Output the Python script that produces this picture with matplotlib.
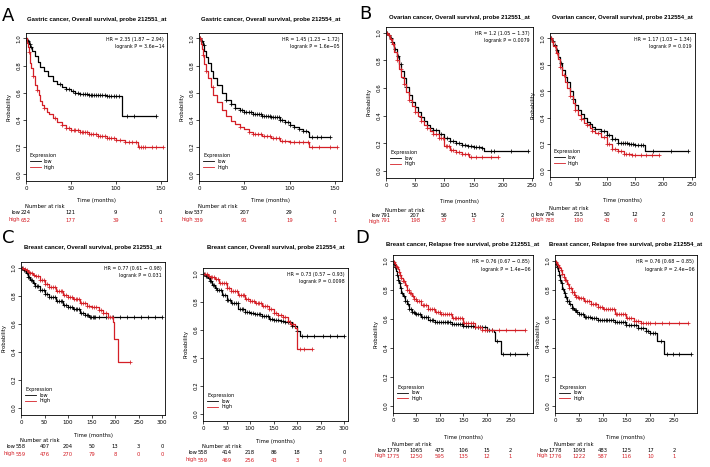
import numpy as np
import matplotlib.pyplot as plt

RED = '#d41f26'
W, H = 710, 467
TITLE_FONT = ['Liberation Sans', 'DejaVu Sans']

# ---------------- A: gastric cancer, overall survival ----------------
a1_low_t = [0, 1, 2, 3, 5, 7, 10, 13, 16, 20, 25, 30, 35, 40, 45, 50, 55, 60, 70, 80, 90, 100, 107, 145]
a1_low_s = [1, .99, .98, .96, .94, .91, .87, .83, .79, .76, .72, .69, .665, .645, .63, .615, .60, .59, .585, .58, .575, .575, .43, .43]
a1_low_c = [1, 2, 4, 6, 38, 45, 48, 52, 55, 58, 60, 63, 66, 68, 70, 72, 74, 76, 78, 80, 82, 85, 88, 90, 92, 95, 98, 100, 103, 112, 120, 145]
a1_high_t = [0, 1, 2, 3, 4, 5, 6, 8, 10, 12, 14, 16, 18, 20, 23, 26, 30, 35, 40, 45, 50, 60, 70, 80, 90, 100, 110, 120, 125, 153]
a1_high_s = [1, .97, .94, .90, .86, .82, .78, .72, .66, .62, .58, .54, .51, .485, .46, .44, .415, .385, .36, .34, .325, .31, .295, .28, .265, .25, .24, .235, .20, .20]
a1_high_c = [3, 8, 12, 20, 32, 40, 45, 48, 50, 53, 55, 58, 60, 62, 64, 66, 68, 70, 72, 75, 78, 80, 82, 85, 88, 90, 92, 95, 98, 100, 105, 110, 115, 118, 122, 126, 128, 130, 133, 140, 145, 153]
a1_risk_low = [224, 121, 9, 0]
a1_risk_high = [652, 177, 39, 1]

a2_low_t = [0, 2, 4, 6, 8, 10, 13, 16, 20, 25, 30, 35, 40, 45, 50, 60, 70, 80, 90, 95, 100, 105, 110, 115, 120, 122, 145]
a2_low_s = [1, .98, .95, .91, .86, .82, .76, .71, .66, .60, .55, .515, .49, .47, .455, .44, .43, .42, .40, .385, .36, .35, .33, .32, .31, .275, .275]
a2_low_c = [1, 3, 5, 30, 35, 40, 45, 48, 50, 52, 55, 58, 60, 62, 64, 66, 68, 70, 72, 74, 76, 78, 80, 82, 84, 86, 88, 90, 92, 95, 98, 100, 105, 110, 115, 118, 125, 130, 135, 145]
a2_high_t = [0, 2, 3, 4, 5, 6, 8, 10, 13, 16, 20, 25, 30, 35, 40, 45, 50, 55, 60, 70, 80, 90, 100, 122, 153]
a2_high_s = [1, .96, .92, .88, .85, .81, .76, .71, .64, .58, .53, .47, .43, .395, .37, .35, .33, .31, .295, .28, .265, .245, .235, .20, .20]
a2_high_c = [1, 4, 8, 15, 45, 55, 60, 62, 65, 68, 72, 75, 78, 82, 85, 88, 92, 95, 100, 105, 110, 115, 120, 125, 133, 145, 153]
a2_risk_low = [537, 207, 29, 0]
a2_risk_high = [339, 91, 19, 1]

# ---------------- B: ovarian cancer, overall survival ----------------
b1_low_t = [0, 3, 6, 10, 14, 18, 22, 26, 30, 35, 40, 45, 50, 55, 60, 65, 70, 75, 80, 90, 100, 110, 120, 130, 140, 150, 165, 168, 243]
b1_low_s = [1, .98, .96, .93, .88, .83, .77, .72, .67, .61, .55, .50, .46, .425, .39, .36, .335, .31, .295, .265, .24, .22, .20, .19, .18, .175, .17, .145, .145]
b1_low_c = [2, 5, 8, 10, 15, 20, 25, 30, 35, 45, 55, 60, 70, 80, 85, 90, 95, 100, 105, 110, 115, 120, 125, 130, 135, 140, 145, 150, 155, 160, 165, 180, 185, 215, 243]
b1_high_t = [0, 3, 6, 10, 14, 18, 22, 26, 30, 35, 40, 45, 50, 55, 60, 65, 70, 75, 80, 90, 100, 110, 120, 130, 143, 192]
b1_high_s = [1, .98, .95, .92, .86, .80, .74, .68, .63, .57, .515, .47, .43, .395, .36, .335, .31, .29, .27, .24, .18, .15, .14, .125, .10, .10]
b1_high_c = [2, 5, 8, 12, 18, 25, 30, 40, 50, 60, 70, 80, 85, 90, 95, 98, 102, 105, 108, 112, 115, 120, 125, 130, 135, 140, 145, 155, 165, 180, 192]
b1_risk_low = [791, 207, 56, 15, 2, 0]
b1_risk_high = [791, 198, 37, 3, 0, 0]

b2_low_t = [0, 3, 6, 10, 14, 18, 22, 26, 30, 35, 40, 45, 50, 55, 60, 65, 70, 75, 80, 90, 100, 110, 120, 130, 140, 150, 165, 168, 243]
b2_low_s = [1, .98, .95, .91, .86, .81, .76, .71, .67, .60, .54, .495, .46, .425, .395, .37, .35, .33, .315, .30, .27, .235, .21, .205, .20, .195, .19, .145, .145]
b2_low_c = [2, 5, 8, 12, 20, 30, 40, 50, 60, 70, 80, 90, 95, 100, 105, 110, 115, 120, 125, 128, 132, 136, 140, 143, 146, 150, 155, 160, 165, 182, 213, 243]
b2_high_t = [0, 3, 6, 10, 14, 18, 22, 26, 30, 35, 40, 45, 50, 55, 60, 65, 70, 75, 80, 90, 100, 110, 120, 130, 145, 192]
b2_high_s = [1, .97, .94, .89, .84, .78, .72, .67, .62, .56, .51, .46, .42, .39, .36, .34, .32, .30, .285, .25, .20, .16, .145, .125, .115, .115]
b2_high_c = [2, 5, 8, 12, 18, 25, 35, 45, 55, 65, 75, 85, 95, 100, 105, 110, 115, 120, 125, 130, 135, 140, 145, 150, 160, 170, 180, 192]
b2_risk_low = [794, 215, 50, 12, 2, 0]
b2_risk_high = [788, 190, 43, 6, 0, 0]

# ---------------- C: breast cancer, overall survival ----------------
c1_low_t = [0, 5, 10, 15, 20, 25, 30, 40, 50, 60, 75, 90, 100, 110, 125, 135, 145, 300]
c1_low_s = [1, .98, .96, .935, .91, .89, .87, .84, .81, .79, .76, .735, .72, .705, .68, .665, .65, .65]
c1_low_c = [3, 6, 9, 12, 15, 18, 21, 24, 27, 30, 33, 36, 40, 44, 48, 52, 56, 60, 64, 68, 72, 76, 80, 84, 88, 92, 96, 100,
            104, 108, 112, 116, 120, 124, 128, 132, 136, 140, 143, 146, 149, 152, 155, 158, 165, 180, 195, 210, 225, 240, 255, 270, 285, 300]
c1_high_t = [0, 5, 10, 15, 20, 25, 30, 40, 50, 60, 75, 90, 100, 110, 125, 140, 150, 165, 175, 185, 195, 198, 207, 232]
c1_high_s = [1, .99, .98, .97, .96, .95, .94, .91, .885, .865, .83, .805, .79, .775, .75, .73, .72, .70, .68, .65, .61, .49, .33, .33]
c1_high_c = [4, 8, 12, 16, 20, 24, 28, 32, 36, 40, 44, 48, 52, 56, 60, 64, 68, 72, 76, 80, 84, 88, 92, 96, 100, 104, 108,
             112, 116, 120, 124, 128, 132, 136, 140, 145, 150, 155, 160, 165, 170, 175, 180, 185, 190, 193, 232]
c1_risk_low = [558, 407, 204, 50, 13, 3, 0]
c1_risk_high = [559, 476, 270, 79, 8, 0, 0]

c2_low_t = [0, 5, 10, 15, 20, 25, 30, 40, 50, 60, 75, 90, 100, 110, 125, 140, 150, 165, 175, 190, 200, 205, 300]
c2_low_s = [1, .985, .97, .945, .92, .90, .88, .845, .815, .79, .75, .73, .72, .71, .695, .68, .67, .665, .655, .625, .59, .555, .555]
c2_low_c = [3, 6, 9, 12, 15, 18, 21, 24, 27, 30, 34, 38, 42, 46, 50, 54, 58, 62, 66, 70, 74, 78, 82, 86, 90, 94, 98, 102,
            106, 110, 114, 118, 122, 126, 130, 134, 138, 142, 146, 150, 155, 160, 165, 170, 175, 180, 185, 190, 196, 200,
            210, 220, 235, 255, 270, 285, 300]
c2_high_t = [0, 5, 10, 15, 25, 35, 50, 60, 75, 90, 100, 110, 125, 140, 150, 160, 170, 180, 185, 195, 199, 232]
c2_high_s = [1, .995, .985, .975, .96, .935, .90, .875, .845, .82, .805, .79, .77, .745, .72, .705, .69, .66, .64, .61, .465, .465]
c2_high_c = [4, 8, 12, 16, 20, 24, 28, 32, 36, 40, 44, 48, 52, 56, 60, 64, 68, 72, 76, 80, 84, 88, 92, 96, 100, 104, 108,
             112, 116, 120, 124, 128, 132, 136, 140, 145, 150, 155, 160, 165, 170, 175, 180, 186, 192, 205, 215, 232]
c2_risk_low = [558, 414, 218, 86, 18, 3, 0]
c2_risk_high = [559, 469, 256, 43, 3, 0, 0]

# ---------------- D: breast cancer, relapse free survival ----------------
d1_low_t = [0, 2, 4, 6, 8, 10, 12, 15, 18, 21, 25, 30, 35, 40, 45, 50, 60, 75, 90, 100, 125, 150, 175, 200, 215, 218, 230, 285]
d1_low_s = [1, .98, .955, .93, .90, .87, .845, .81, .78, .755, .725, .70, .67, .65, .64, .63, .61, .595, .58, .575, .565, .55, .54, .525, .51, .45, .355, .355]
d1_low_c = [2, 5, 8, 11, 14, 17, 20, 23, 26, 29, 32, 35, 38, 41, 44, 47, 50, 54, 58, 62, 66, 70, 74, 78, 82, 86, 90, 94,
            98, 102, 106, 110, 114, 118, 122, 126, 130, 134, 138, 142, 146, 150, 155, 160, 165, 170, 175, 180, 185, 190,
            195, 200, 205, 210, 222, 235, 248, 260, 285]
d1_high_t = [0, 2, 4, 6, 8, 10, 12, 15, 18, 21, 25, 30, 35, 40, 45, 50, 60, 75, 90, 100, 125, 150, 175, 190, 280]
d1_high_s = [1, .99, .98, .965, .955, .94, .925, .90, .88, .86, .83, .80, .775, .755, .735, .72, .695, .665, .645, .635, .605, .57, .545, .525, .525]
d1_high_c = [3, 6, 9, 12, 15, 18, 21, 24, 27, 30, 33, 36, 39, 42, 45, 48, 51, 55, 59, 63, 67, 71, 75, 79, 83, 87, 91, 95,
             99, 103, 107, 111, 115, 119, 123, 127, 131, 135, 139, 143, 147, 151, 155, 160, 165, 170, 175, 180, 185, 190,
             195, 200, 210, 225, 240, 260, 280]
d1_risk_low = [1779, 1065, 475, 106, 15, 2]
d1_risk_high = [1775, 1250, 595, 135, 12, 1]

d2_low_t = [0, 2, 4, 6, 8, 10, 12, 15, 18, 21, 25, 30, 35, 40, 45, 50, 60, 75, 90, 100, 125, 150, 175, 190, 200, 215, 228, 285]
d2_low_s = [1, .98, .955, .93, .90, .87, .845, .805, .775, .75, .72, .70, .675, .66, .645, .63, .615, .605, .595, .59, .575, .555, .535, .515, .50, .45, .355, .355]
d2_low_c = [2, 5, 8, 11, 14, 17, 20, 23, 26, 29, 32, 35, 38, 41, 44, 47, 50, 54, 58, 62, 66, 70, 74, 78, 82, 86, 90, 94,
            98, 102, 106, 110, 114, 118, 122, 126, 130, 134, 138, 142, 146, 150, 155, 160, 165, 170, 175, 180, 185, 190,
            195, 200, 205, 210, 222, 235, 248, 260, 285]
d2_high_t = [0, 2, 4, 6, 8, 10, 12, 15, 18, 21, 25, 30, 35, 40, 45, 50, 60, 75, 90, 100, 125, 150, 165, 180, 280]
d2_high_s = [1, .99, .98, .97, .96, .95, .935, .91, .89, .87, .84, .81, .785, .765, .75, .74, .72, .70, .68, .67, .63, .605, .585, .57, .57]
d2_high_c = [3, 6, 9, 12, 15, 18, 21, 24, 27, 30, 33, 36, 39, 42, 45, 48, 51, 55, 59, 63, 67, 71, 75, 79, 83, 87, 91, 95,
             99, 103, 107, 111, 115, 119, 123, 127, 131, 135, 139, 143, 147, 151, 155, 160, 165, 170, 175, 180, 185, 190,
             195, 200, 210, 225, 240, 260, 280]
d2_risk_low = [1778, 1093, 483, 125, 17, 2]
d2_risk_high = [1776, 1222, 587, 116, 10, 1]

GAP_AC = (7, 20, 26, 32, 39)
GAP_BD = (10, 24, 32, 38, 43)

plots = [
    dict(title='Gastric cancer, Overall survival, probe 212551_at', box=(26, 33, 167, 181), ty=20, xmax=157,
         xticks=[0, 50, 100, 150], hr='HR = 2.35 (1.87 \u2212 2.94)', p='logrank P = 3.6e\u221214',
         low=(a1_low_t, a1_low_s, a1_low_c), high=(a1_high_t, a1_high_s, a1_high_c),
         rl=a1_risk_low, rh=a1_risk_high, gap=GAP_AC),
    dict(title='Gastric cancer, Overall survival, probe 212554_at', box=(199, 33, 342, 181), ty=20, xmax=158,
         xticks=[0, 50, 100, 150], hr='HR = 1.45 (1.23 \u2212 1.72)', p='logrank P = 1.6e\u221205',
         low=(a2_low_t, a2_low_s, a2_low_c), high=(a2_high_t, a2_high_s, a2_high_c),
         rl=a2_risk_low, rh=a2_risk_high, gap=GAP_AC),
    dict(title='Ovarian cancer, Overall survival, probe 212551_at', box=(386, 27, 533, 178), ty=17, xmax=252,
         xticks=[0, 50, 100, 150, 200, 250], hr='HR = 1.2 (1.05 \u2212 1.37)', p='logrank P = 0.0079',
         low=(b1_low_t, b1_low_s, b1_low_c), high=(b1_high_t, b1_high_s, b1_high_c),
         rl=b1_risk_low, rh=b1_risk_high, gap=GAP_BD),
    dict(title='Ovarian cancer, Overall survival, probe 212554_at', box=(550, 33, 695, 177), ty=17, xmax=256,
         xticks=[0, 50, 100, 150, 200, 250], hr='HR = 1.17 (1.03 \u2212 1.34)', p='logrank P = 0.019',
         low=(b2_low_t, b2_low_s, b2_low_c), high=(b2_high_t, b2_high_s, b2_high_c),
         rl=b2_risk_low, rh=b2_risk_high, gap=GAP_BD),
    dict(title='Breast cancer, Overall survival, probe 212551_at', box=(21, 262, 165, 415), ty=248, xmax=306,
         xticks=[0, 50, 100, 150, 200, 250, 300], hr='HR = 0.77 (0.61 \u2212 0.98)', p='logrank P = 0.031',
         low=(c1_low_t, c1_low_s, c1_low_c), high=(c1_high_t, c1_high_s, c1_high_c),
         rl=c1_risk_low, rh=c1_risk_high, gap=GAP_AC),
    dict(title='Breast cancer, Overall survival, probe 212554_at', box=(203, 268, 348, 421), ty=248, xmax=308,
         xticks=[0, 50, 100, 150, 200, 250, 300], hr='HR = 0.73 (0.57 \u2212 0.93)', p='logrank P = 0.0098',
         low=(c2_low_t, c2_low_s, c2_low_c), high=(c2_high_t, c2_high_s, c2_high_c),
         rl=c2_risk_low, rh=c2_risk_high, gap=GAP_AC),
    dict(title='Breast cancer, Relapse free survival, probe 212551_at', box=(393, 255, 533, 413), ty=245, xmax=298,
         xticks=[0, 50, 100, 150, 200, 250], hr='HR = 0.76 (0.67 \u2212 0.85)', p='logrank P = 1.4e\u221206',
         low=(d1_low_t, d1_low_s, d1_low_c), high=(d1_high_t, d1_high_s, d1_high_c),
         rl=d1_risk_low, rh=d1_risk_high, gap=GAP_BD),
    dict(title='Breast cancer, Relapse free survival, probe 212554_at', box=(555, 255, 697, 413), ty=245, xmax=298,
         xticks=[0, 50, 100, 150, 200, 250], hr='HR = 0.76 (0.68 \u2212 0.85)', p='logrank P = 2.4e\u221206',
         low=(d2_low_t, d2_low_s, d2_low_c), high=(d2_high_t, d2_high_s, d2_high_c),
         rl=d2_risk_low, rh=d2_risk_high, gap=GAP_BD),
]

panel_letters = [('A', 8, 16), ('B', 365, 14), ('C', 8, 238), ('D', 362, 238)]


def fx(px):
    return px / W


def fy(py):
    return 1 - py / H


def km_curve(ax, t, s, c, color):
    t = np.asarray(t, float)
    s = np.asarray(s, float)
    ax.step(t, s, where='post', color=color, lw=0.9)
    idx = np.searchsorted(t, c, side='right') - 1
    ax.plot(c, s[idx], ls='none', marker='+', ms=2.6, mew=0.55, color=color)


fig = plt.figure(figsize=(W / 100, H / 100), dpi=100)

for p in plots:
    x0, y0, x1, y1 = p['box']
    ax = fig.add_axes([fx(x0), fy(y1), fx(x1 - x0), (y1 - y0) / H])
    km_curve(ax, *p['low'], 'black')
    km_curve(ax, *p['high'], RED)
    ax.set_xlim(0, p['xmax'])
    ax.set_ylim(-0.05, 1.04)
    ax.set_xticks(p['xticks'])
    ax.set_yticks([0, 0.2, 0.4, 0.6, 0.8, 1.0])
    ax.set_yticklabels(['0.0', '0.2', '0.4', '0.6', '0.8', '1.0'], rotation=90, va='center')
    ax.tick_params(labelsize=4.0, length=2, width=0.5, pad=1.5)
    for sp in ax.spines.values():
        sp.set_linewidth(0.6)
    ax.set_ylabel('Probability', fontsize=3.8, labelpad=3)

    ax.text(0.98, 0.975, p['hr'], transform=ax.transAxes, ha='right', va='top', fontsize=3.4)
    ax.text(0.98, 0.925, p['p'], transform=ax.transAxes, ha='right', va='top', fontsize=3.4)

    lh = [plt.Line2D([], [], color='black', lw=0.6), plt.Line2D([], [], color=RED, lw=0.6)]
    ax.legend(lh, ['low', 'high'], title='Expression', loc='lower left', bbox_to_anchor=(0.0, 0.05),
              frameon=False, fontsize=3.6, title_fontsize=3.6, handlelength=2.2, handletextpad=0.6,
              labelspacing=0.15, borderpad=0.3, alignment='left')

    fig.text(fx((x0 + x1) / 2), fy(p['ty']), p['title'], ha='center', va='center',
             fontsize=4.3, fontweight='bold', family=TITLE_FONT)

    g = p['gap']
    fig.text(fx((x0 + x1) / 2), fy(y1 + g[1]), 'Time (months)', ha='center', va='center', fontsize=3.8)
    fig.text(fx(x0 - 1), fy(y1 + g[2]), 'Number at risk', ha='left', va='center', fontsize=3.8)
    xpx = [x0 + (x1 - x0) * v / p['xmax'] for v in p['xticks']]
    for row, lab, col, gy in [(p['rl'], 'low', 'black', g[3]), (p['rh'], 'high', RED, g[4])]:
        for xp, n in zip(xpx, row):
            fig.text(fx(xp), fy(y1 + gy), str(n), ha='center', va='center', fontsize=3.8, color=col)
        fig.text(fx(xpx[0] - len(str(row[0])) * 1.2 - 2), fy(y1 + gy), lab, ha='right', va='center',
                 fontsize=3.8, color=col)

for lab, x, y in panel_letters:
    fig.text(fx(x), fy(y), lab, ha='center', va='center', fontsize=13)

fig.savefig('out.png', dpi=100)
